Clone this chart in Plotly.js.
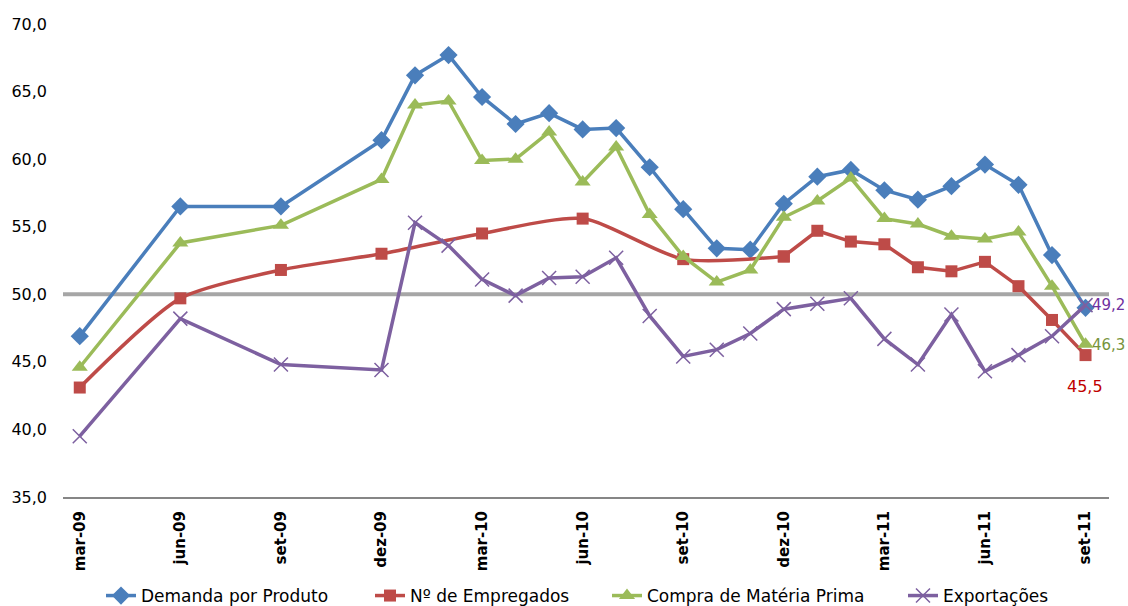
<!DOCTYPE html>
<html>
<head>
<meta charset="utf-8">
<script src="https://cdn.plot.ly/plotly-3.0.1.min.js"></script>
<style>html,body{margin:0;padding:0;background:#fff;}#chart{width:1128px;height:606px;}</style>
</head>
<body>
<div id="chart"></div>
<script>
// All months on the axis (Portuguese abbreviations)
const monthLabels = ['mar-09','abr-09','mai-09','jun-09','jul-09','ago-09','set-09','out-09','nov-09','dez-09',
  'jan-10','fev-10','mar-10','abr-10','mai-10','jun-10','jul-10','ago-10','set-10','out-10','nov-10','dez-10',
  'jan-11','fev-11','mar-11','abr-11','mai-11','jun-11','jul-11','ago-11','set-11'];
const tickLabels = ['mar-09','jun-09','set-09','dez-09','mar-10','jun-10','set-10','dez-10','mar-11','jun-11','set-11'];

// Dates of the observations for Demanda / Compra / Exportações
const datesMain = ['mar-09','jun-09','set-09','dez-09',
  'jan-10','fev-10','mar-10','abr-10','mai-10','jun-10','jul-10','ago-10','set-10','out-10','nov-10','dez-10',
  'jan-11','fev-11','mar-11','abr-11','mai-11','jun-11','jul-11','ago-11','set-11'];
const demanda = [46.9,56.5,56.5,61.4, 66.2,67.7,64.6,62.6,63.4,62.2,62.3,59.4,56.3,53.4,53.3,56.7, 58.7,59.2,57.7,57.0,58.0,59.6,58.1,52.9,49.0];
const compra  = [44.6,53.8,55.1,58.5, 64.0,64.3,59.9,60.0,62.0,58.3,60.9,55.9,52.8,50.9,51.8,55.7, 56.9,58.6,55.6,55.2,54.3,54.1,54.6,50.6,46.3];
const exportacoes = [39.5,48.2,44.8,44.4, 55.3,53.6,51.1,49.9,51.2,51.3,52.7,48.4,45.4,45.9,47.1,48.9, 49.3,49.7,46.7,44.8,48.5,44.3,45.5,46.9,49.2];

// Nº de Empregados: quarterly until dez-10 (smoothed), monthly afterwards
const datesEmpregados = ['mar-09','jun-09','set-09','dez-09','mar-10','jun-10','set-10','dez-10',
  'jan-11','fev-11','mar-11','abr-11','mai-11','jun-11','jul-11','ago-11','set-11'];
const empregados = [43.1,49.7,51.8,53.0,54.5,55.6,52.6,52.8, 54.7,53.9,53.7,52.0,51.7,52.4,50.6,48.1,45.5];
const smoothUntil = 'dez-10';

const seriesNames = ['Demanda por Produto','Nº de Empregados','Compra de Matéria Prima','Exportações'];
const referenceLevel = 50;

const idx = d => monthLabels.indexOf(d);
const fmt = v => v.toFixed(1).replace('.', ',');

const C = {blue:'#4A7EBB', red:'#BE4B48', green:'#9BBB59', purple:'#7D60A0'};
const LW = 3.5;
const FONT = 'DejaVu Sans, Verdana, sans-serif';

const xMain = datesMain.map(idx);
const xEmp = datesEmpregados.map(idx);
const cut = datesEmpregados.indexOf(smoothUntil);

const traces = [
  {x:xMain, y:demanda, name:seriesNames[0], mode:'lines+markers', legend:'legend',
   line:{color:C.blue,width:LW}, marker:{symbol:'diamond',size:14,color:C.blue}},
  {x:xEmp.slice(0,cut+1), y:empregados.slice(0,cut+1), name:seriesNames[1], mode:'lines+markers', legendgroup:'emp', legend:'legend2',
   line:{color:C.red,width:LW,shape:'spline',smoothing:0.7}, marker:{symbol:'square',size:12,color:C.red}},
  {x:xEmp.slice(cut), y:empregados.slice(cut), name:seriesNames[1], mode:'lines+markers', legendgroup:'emp', showlegend:false, legend:'legend2',
   line:{color:C.red,width:LW}, marker:{symbol:'square',size:12,color:C.red}},
  {x:xMain, y:compra, name:seriesNames[2], mode:'lines+markers', legend:'legend3',
   line:{color:C.green,width:LW}, marker:{symbol:'triangle-up',size:14,color:C.green}},
  {x:xMain, y:exportacoes, name:seriesNames[3], mode:'lines+markers', legend:'legend4',
   line:{color:C.purple,width:LW}, marker:{symbol:'x-thin',size:14,color:C.purple,line:{color:C.purple,width:1.5}}}
];

const lastI = datesMain.length - 1;
const annotations = [
  {x:xMain[lastI], y:exportacoes[lastI], text:fmt(exportacoes[lastI]), showarrow:false, xanchor:'left', xshift:4, yshift:0,
   font:{family:FONT,size:15,color:'#7030A0'}},
  {x:xMain[lastI], y:compra[lastI], text:fmt(compra[lastI]), showarrow:false, xanchor:'left', xshift:4, yshift:-1,
   font:{family:FONT,size:15,color:'#77933C'}},
  {x:xEmp[xEmp.length-1], y:empregados[empregados.length-1], text:fmt(empregados[empregados.length-1]), showarrow:false, xanchor:'center', xshift:-1, yshift:-31,
   font:{family:FONT,size:16,color:'#C00000'}}
];

// one legend per series so each entry sits where the reference puts it
const ML = 63, PW = 1046;
const legendTextStarts = [141, 410, 647, 943];
function legendAt(px){
  return {orientation:'h', xref:'paper', x:(px-40-ML)/PW, xanchor:'left',
    yref:'container', y:0.0165, yanchor:'middle',
    font:{family:FONT,size:17,color:'#000'}, itemwidth:30, bgcolor:'rgba(0,0,0,0)'};
}

const layout = {
  width:1128, height:606,
  margin:{l:ML, r:19, t:24, b:109, autoexpand:false},
  paper_bgcolor:'#fff', plot_bgcolor:'#fff',
  separators:',.',
  font:{family:FONT, color:'#000'},
  showlegend:true,
  xaxis:{type:'linear', range:[-0.5,30.7], tickmode:'array',
    tickvals:tickLabels.map(idx), ticktext:tickLabels, tickangle:-90,
    tickfont:{family:FONT,size:15,color:'#000',weight:'bold'},
    showgrid:false, zeroline:false, showline:true, linecolor:'#868686', linewidth:2,
    ticks:'', ticklabelstandoff:6, fixedrange:true, automargin:false},
  yaxis:{range:[35,70], dtick:5, tick0:35, tickformat:'.1f',
    tickfont:{family:FONT,size:16,color:'#000'},
    showgrid:false, zeroline:false, showline:false, ticks:'', ticklabelstandoff:15, fixedrange:true, automargin:false},
  shapes:[{type:'line', xref:'paper', x0:0, x1:1, yref:'y', y0:referenceLevel, y1:referenceLevel,
    line:{color:'#A6A6A6', width:4}, layer:'below'}],
  annotations:annotations,
  legend:legendAt(legendTextStarts[0]),
  legend2:legendAt(legendTextStarts[1]),
  legend3:legendAt(legendTextStarts[2]),
  legend4:legendAt(legendTextStarts[3])
};

Plotly.newPlot('chart', traces, layout, {displayModeBar:false, staticPlot:true});
</script>
</body>
</html>
